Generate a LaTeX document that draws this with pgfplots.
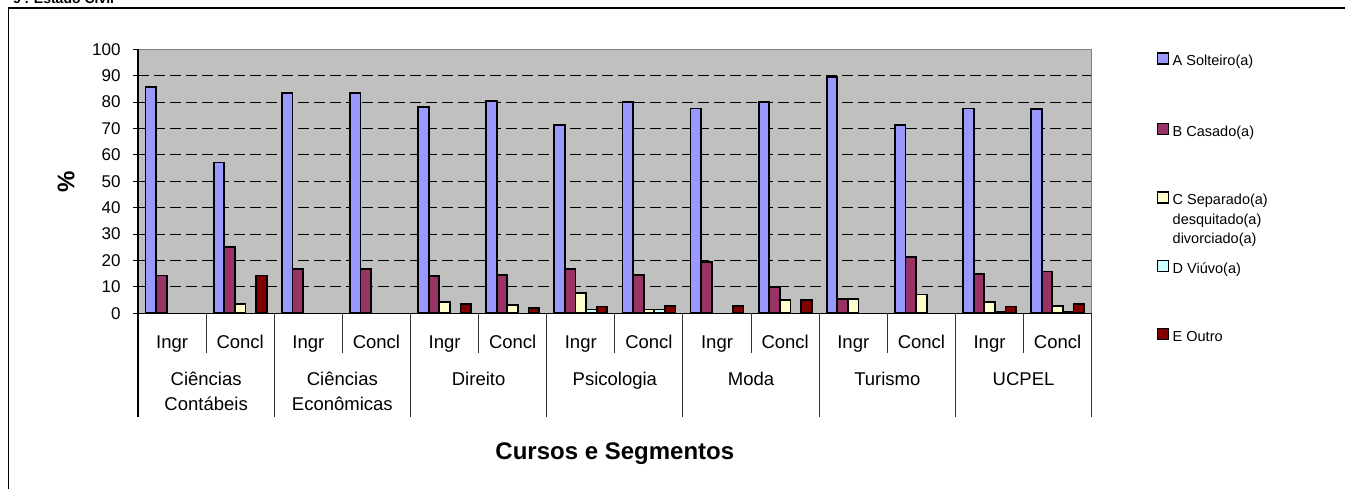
\documentclass[border=0pt]{standalone}
\usepackage{pgfplots}
\pgfplotsset{compat=1.18}
\usepackage{fontspec}
\setmainfont{Liberation Sans}
\definecolor{cA}{RGB}{153,153,255}
\definecolor{cB}{RGB}{153,51,102}
\definecolor{cC}{RGB}{255,255,204}
\definecolor{cD}{RGB}{204,255,255}
\definecolor{cE}{RGB}{128,0,0}
\definecolor{plotbg}{RGB}{192,192,192}
\definecolor{bordergray}{RGB}{128,128,128}
\begin{document}
\begin{tikzpicture}
% outer frame (partly outside the page)
\draw[line width=1.3pt] (8.3pt,-10pt) -- (8.3pt,481pt) -- (1360pt,481pt);
\node[anchor=base west, font=\bfseries\fontsize{14}{16}\selectfont, inner sep=0pt] at (13pt,485.5pt) {9 . Estado Civil};
\begin{axis}[
  at={(138pt,175.7pt)}, anchor=south west,
  scale only axis, width=953.7pt, height=264pt,
  xmin=-0.5, xmax=13.5, ymin=0, ymax=100,
  ybar=0pt, bar width=10.6pt,
  axis background/.style={fill=plotbg},
  axis line style={draw=bordergray, line width=1.3pt},
  ymajorgrids, grid style={black, line width=0.8pt, dash pattern=on 11pt off 5pt},
  ytick={0,10,...,100}, ytick pos=left, tick align=outside, major tick length=5pt,
  y tick style={black, line width=1pt},
  /pgf/number format/assume math mode=true,
  yticklabel style={font=\fontsize{17}{20}\selectfont, xshift=-9pt},
  xtick={0,...,13},
  xticklabels={Ingr,Concl,Ingr,Concl,Ingr,Concl,Ingr,Concl,Ingr,Concl,Ingr,Concl,Ingr,Concl},
  x tick style={draw=none},
  xticklabel style={font=\fontsize{18.5}{22}\selectfont, anchor=base, yshift=-30pt},
  ylabel={\%},
  ylabel style={font=\bfseries\fontsize{24}{28}\selectfont, at={(axis description cs:0,0.5)}, anchor=center, yshift=72pt, xshift=-1pt},
  xlabel={Cursos e Segmentos},
  xlabel style={font=\bfseries\fontsize{24}{28}\selectfont, at={(axis description cs:0.5,0)}, anchor=base, yshift=-146pt},
  clip=false,
]
\addplot[draw=black, line width=1.8pt, fill=cA] coordinates {(0,85.7) (1,57.1) (2,83.3) (3,83.3) (4,78.0) (5,80.5) (6,71.2) (7,79.9) (8,77.6) (9,79.9) (10,89.4) (11,71.4) (12,77.6) (13,77.4)};
\addplot[draw=black, line width=1.8pt, fill=cB] coordinates {(0,14.3) (1,25.0) (2,16.7) (3,16.7) (4,14.0) (5,14.4) (6,16.9) (7,14.6) (8,19.4) (9,10.1) (10,5.3) (11,21.4) (12,14.9) (13,15.8)};
\addplot[draw=black, line width=1.8pt, fill=cC] coordinates {(1,3.6) (4,4.4) (5,3.1) (6,7.8) (7,1.4) (9,4.9) (10,5.3) (11,7.1) (12,4.4) (13,2.7)};
\addplot[draw=black, line width=1.8pt, fill=cD] coordinates {(6,1.4) (7,1.4) (12,0.5) (13,0.5)};
\addplot[draw=black, line width=1.8pt, fill=cE] coordinates {(1,14.3) (4,3.5) (5,2.0) (6,2.6) (7,2.7) (8,2.9) (9,4.9) (12,2.6) (13,3.5)};
% axis lines in black
\draw[black, line width=1.3pt] (axis cs:-0.5,100) -- (axis cs:-0.5,0) -- ++(0pt,-104pt);
\draw[black, line width=1.3pt] (axis cs:-0.5,0) -- (axis cs:13.5,0);
\pgfplotsinvokeforeach{1.5,3.5,5.5,7.5,9.5,11.5,13.5}{
  \draw[black!80, line width=1pt] (axis cs:#1,0) -- ++(0pt,-104pt);
}
\pgfplotsinvokeforeach{0.5,2.5,4.5,6.5,8.5,10.5,12.5}{
  \draw[black!80, line width=1pt] (axis cs:#1,0) -- ++(0pt,-40pt);
}
\tikzset{glab/.style={anchor=base, inner sep=0pt, font=\fontsize{18.5}{22}\selectfont}}
\node[glab] at ([yshift=-72.7pt]axis cs:0.5,0) {Ciências};
\node[glab] at ([yshift=-97.7pt]axis cs:0.5,0) {Contábeis};
\node[glab] at ([yshift=-72.7pt]axis cs:2.5,0) {Ciências};
\node[glab] at ([yshift=-97.7pt]axis cs:2.5,0) {Econômicas};
\node[glab] at ([yshift=-72.7pt]axis cs:4.5,0) {Direito};
\node[glab] at ([yshift=-72.7pt]axis cs:6.5,0) {Psicologia};
\node[glab] at ([yshift=-72.7pt]axis cs:8.5,0) {Moda};
\node[glab] at ([yshift=-72.7pt]axis cs:10.5,0) {Turismo};
\node[glab] at ([yshift=-72.7pt]axis cs:12.5,0) {UCPEL};
\end{axis}
% legend
\tikzset{lsw/.style={draw=black, line width=1.5pt, minimum size=11pt, inner sep=0pt},
         ltx/.style={anchor=base west, inner sep=0pt, font=\fontsize{14.5}{17}\selectfont}}
\node[lsw, fill=cA] at (1163pt,430.7pt) {};
\node[ltx] at (1172.5pt,423.2pt) {A Solteiro(a)};
\node[lsw, fill=cB] at (1163pt,360pt) {};
\node[ltx] at (1172.5pt,352.5pt) {B Casado(a)};
\node[lsw, fill=cC] at (1163pt,291.7pt) {};
\node[ltx] at (1172.5pt,284.5pt) {C Separado(a)};
\node[ltx] at (1172.5pt,264.5pt) {desquitado(a)};
\node[ltx] at (1172.5pt,245pt) {divorciado(a)};
\node[lsw, fill=cD] at (1163pt,223pt) {};
\node[ltx] at (1172.5pt,215.5pt) {D Viúvo(a)};
\node[lsw, fill=cE] at (1163pt,155pt) {};
\node[ltx] at (1172.5pt,147.5pt) {E Outro};
\pgfresetboundingbox
\path[use as bounding box] (0pt,0pt) rectangle (1345pt,489pt);
\end{tikzpicture}
\end{document}
